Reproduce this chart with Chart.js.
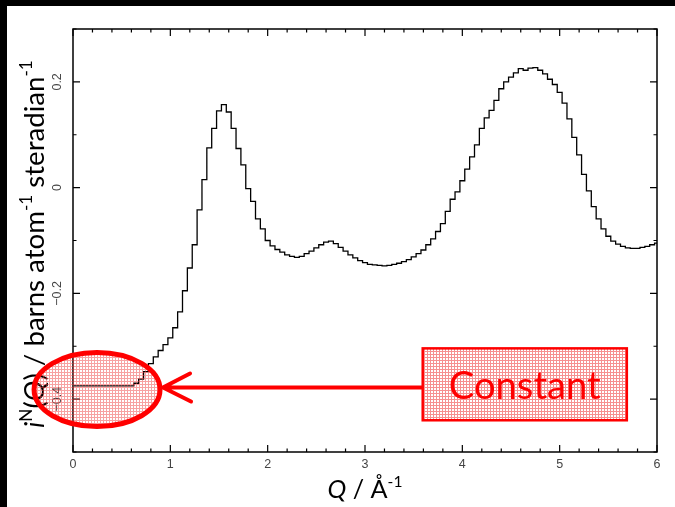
<!DOCTYPE html>
<html>
<head>
<meta charset="utf-8">
<script src="https://cdn.jsdelivr.net/npm/chart.js@4.4.1/dist/chart.umd.min.js"></script>
<style>
  html, body { margin: 0; padding: 0; background: #000; }
  #wrap { position: absolute; left: 7px; top: 6px; width: 668px; height: 501px; background: #fff; }
</style>
</head>
<body>
<div id="wrap"><canvas id="c"></canvas></div>
<script>
/* i^N(Q) step curve with "Constant" annotation (Chart.js v4) */

// Q grid (1/Å) and read-off i^N(Q) values
var Q = [
  0.00, 0.05, 0.10, 0.15, 0.20, 0.25, 0.30, 0.35, 0.40, 0.45, 0.50, 0.55, 0.60, 0.65, 0.70, 0.75, 0.80, 0.85, 0.90, 0.95,
  1.00, 1.05, 1.10, 1.15, 1.20, 1.25, 1.30, 1.35, 1.40, 1.45, 1.50, 1.55, 1.60, 1.65, 1.70, 1.75, 1.80, 1.85, 1.90, 1.95,
  2.00, 2.05, 2.10, 2.15, 2.20, 2.25, 2.30, 2.35, 2.40, 2.45, 2.50, 2.55, 2.60, 2.65, 2.70, 2.75, 2.80, 2.85, 2.90, 2.95,
  3.00, 3.05, 3.10, 3.15, 3.20, 3.25, 3.30, 3.35, 3.40, 3.45, 3.50, 3.55, 3.60, 3.65, 3.70, 3.75, 3.80, 3.85, 3.90, 3.95,
  4.00, 4.05, 4.10, 4.15, 4.20, 4.25, 4.30, 4.35, 4.40, 4.45, 4.50, 4.55, 4.60, 4.65, 4.70, 4.75, 4.80, 4.85, 4.90, 4.95,
  5.00, 5.05, 5.10, 5.15, 5.20, 5.25, 5.30, 5.35, 5.40, 5.45, 5.50, 5.55, 5.60, 5.65, 5.70, 5.75, 5.80, 5.85, 5.90, 5.95,
  6.00
];
var IQ = [
  -0.375, -0.375, -0.375, -0.375, -0.375, -0.375, -0.375, -0.375, -0.375, -0.375, -0.375, -0.375, -0.375, -0.370, -0.362, -0.348, -0.333, -0.320, -0.308, -0.297,
  -0.284, -0.265, -0.235, -0.195, -0.152, -0.108, -0.042, 0.015, 0.075, 0.112, 0.145, 0.157, 0.143, 0.112, 0.074, 0.043, -0.002, -0.026, -0.059, -0.078,
  -0.100, -0.110, -0.117, -0.122, -0.127, -0.130, -0.132, -0.130, -0.125, -0.120, -0.114, -0.108, -0.103, -0.101, -0.106, -0.113, -0.120, -0.127, -0.133, -0.138,
  -0.142, -0.145, -0.146, -0.147, -0.148, -0.147, -0.145, -0.143, -0.140, -0.136, -0.131, -0.125, -0.118, -0.108, -0.097, -0.083, -0.068, -0.045, -0.022, -0.008,
  0.013, 0.035, 0.058, 0.081, 0.112, 0.132, 0.146, 0.165, 0.187, 0.200, 0.209, 0.217, 0.225, 0.222, 0.226, 0.227, 0.222, 0.215, 0.205, 0.195,
  0.180, 0.160, 0.130, 0.095, 0.062, 0.025, -0.006, -0.036, -0.059, -0.078, -0.092, -0.101, -0.107, -0.111, -0.114, -0.115, -0.115, -0.113, -0.111, -0.108,
  -0.105
];

var X_TICKS = [0, 1, 2, 3, 4, 5, 6];
var X_LABELS = ["0", "1", "2", "3", "4", "5", "6"];
var X_MINOR = [0.2, 0.4, 0.6, 0.8, 1.2, 1.4, 1.6, 1.8, 2.2, 2.4, 2.6, 2.8, 3.2, 3.4, 3.6, 3.8, 4.2, 4.4, 4.6, 4.8, 5.2, 5.4, 5.6, 5.8];
var Y_TICKS = [-0.4, -0.2, 0, 0.2];
var Y_LABELS = ["\u22120.4", "\u22120.2", "0", "0.2"];
var Y_MINOR = [-0.5, -0.3, -0.1, 0.1, 0.3];

var RED = "#ff0000", INK = "#000", TICKC = "#444";
var TFONT = "Lato, 'Open Sans', sans-serif";

function hatch(alpha) {
  var p = document.createElement("canvas");
  p.width = 3; p.height = 3;
  var g = p.getContext("2d");
  g.fillStyle = "rgba(240,70,70," + alpha + ")";
  g.fillRect(0, 0, 3, 1);
  g.fillRect(0, 1, 1, 2);
  return document.getElementById("c").getContext("2d").createPattern(p, "repeat");
}

// draws a run of text pieces (italic / superscript) starting at x
function rich(ctx, parts, size, x, y, measureOnly) {
  var w = 0;
  parts.forEach(function (p) {
    var s = p.sup ? size * 0.62 : size;
    ctx.font = (p.it ? "italic " : "") + s + "px " + TFONT;
    if (!measureOnly) ctx.fillText(p.t, x + w, p.sup ? y - size * 0.42 : y);
    w += ctx.measureText(p.t).width;
  });
  return w;
}
function richFit(ctx, parts, width, cx, y) {
  var w0 = rich(ctx, parts, 24, 0, 0, true);
  var size = 24 * width / w0;
  ctx.textAlign = "left";
  ctx.textBaseline = "alphabetic";
  rich(ctx, parts, size, cx - width / 2, y, false);
}

var frame = {
  id: "frame",
  afterDatasetsDraw: function (chart) {
    var ctx = chart.ctx, a = chart.chartArea, xs = chart.scales.x, ys = chart.scales.y;
    ctx.save();

    // frame
    ctx.strokeStyle = INK; ctx.lineWidth = 1.5;
    ctx.strokeRect(a.left, a.top, a.right - a.left, a.bottom - a.top);

    // inward ticks on all four sides
    ctx.lineWidth = 1.2;
    function xt(v, len) {
      var px = xs.getPixelForValue(v);
      ctx.beginPath();
      ctx.moveTo(px, a.bottom); ctx.lineTo(px, a.bottom - len);
      ctx.moveTo(px, a.top); ctx.lineTo(px, a.top + len);
      ctx.stroke();
    }
    function yt(v, len) {
      var py = ys.getPixelForValue(v);
      ctx.beginPath();
      ctx.moveTo(a.left, py); ctx.lineTo(a.left + len, py);
      ctx.moveTo(a.right, py); ctx.lineTo(a.right - len, py);
      ctx.stroke();
    }
    X_TICKS.forEach(function (v) { xt(v, 7); });
    X_MINOR.forEach(function (v) { xt(v, 3.5); });
    Y_TICKS.forEach(function (v) { yt(v, 7); });
    Y_MINOR.forEach(function (v) { yt(v, 3.5); });

    // tick labels
    ctx.fillStyle = TICKC;
    ctx.font = "12.5px 'Liberation Sans', Arial, sans-serif";
    ctx.textAlign = "center"; ctx.textBaseline = "middle";
    X_TICKS.forEach(function (v, i) {
      ctx.fillText(X_LABELS[i], xs.getPixelForValue(v), a.bottom + 13);
    });
    Y_TICKS.forEach(function (v, i) {
      ctx.save();
      ctx.translate(a.left - 15, ys.getPixelForValue(v));
      ctx.rotate(-Math.PI / 2);
      ctx.fillText(Y_LABELS[i], 0, 0);
      ctx.restore();
    });

    // axis titles
    ctx.fillStyle = INK;
    richFit(ctx, [{ t: "Q", it: true }, { t: " / Å" }, { t: "-1", sup: true }], 75, xs.getPixelForValue(3), a.bottom + 46);
    ctx.save();
    ctx.translate(37, 238);
    ctx.rotate(-Math.PI / 2);
    richFit(ctx, [{ t: "i", it: true }, { t: "N", sup: true }, { t: "(" }, { t: "Q", it: true },
                  { t: ") / barns atom" }, { t: "-1", sup: true }, { t: " steradian" }, { t: "-1", sup: true }],
            368, 0, 0);
    ctx.restore();

    // annotation: ellipse round the constant part
    var ex = xs.getPixelForValue(0.247), ey = ys.getPixelForValue(-0.382);
    var rx = xs.getPixelForValue(0.647) - xs.getPixelForValue(0), ry = ys.getPixelForValue(0) - ys.getPixelForValue(0.07);
    ctx.beginPath();
    ctx.ellipse(ex, ey, rx, ry, 0, 0, Math.PI * 2);
    ctx.fillStyle = hatch(0.5);
    ctx.fill();
    ctx.strokeStyle = RED; ctx.lineWidth = 5;
    ctx.stroke();

    // arrow from the box to the ellipse
    var bx0 = xs.getPixelForValue(3.593), bx1 = xs.getPixelForValue(5.69);
    var by0 = ys.getPixelForValue(-0.304), by1 = ys.getPixelForValue(-0.44);
    var tipX = xs.getPixelForValue(0.925), tipY = ys.getPixelForValue(-0.378);
    ctx.lineWidth = 4; ctx.lineCap = "round";
    ctx.beginPath();
    ctx.moveTo(bx0, tipY); ctx.lineTo(tipX + 2, tipY);
    ctx.moveTo(tipX + 27, tipY - 14); ctx.lineTo(tipX, tipY); ctx.lineTo(tipX + 28, tipY + 14);
    ctx.stroke();

    // "Constant" box
    ctx.fillStyle = "#fff";
    ctx.fillRect(bx0, by0, bx1 - bx0, by1 - by0);
    ctx.fillStyle = hatch(0.6);
    ctx.fillRect(bx0, by0, bx1 - bx0, by1 - by0);
    ctx.lineWidth = 2.5; ctx.lineCap = "butt";
    ctx.strokeRect(bx0, by0, bx1 - bx0, by1 - by0);
    ctx.fillStyle = RED;
    ctx.textAlign = "center"; ctx.textBaseline = "alphabetic";
    ctx.font = "36px " + TFONT;
    var tw = ctx.measureText("Constant").width;
    ctx.font = (36 * 152 / tw).toFixed(1) + "px " + TFONT;
    ctx.fillText("Constant", (bx0 + bx1) / 2, by1 - 21);

    ctx.restore();
  }
};

new Chart(document.getElementById("c"), {
  type: "line",
  data: {
    datasets: [{
      data: Q.map(function (q, i) { return { x: q, y: IQ[i] }; }),
      borderColor: INK, borderWidth: 1.3, pointRadius: 0, stepped: "middle", fill: false
    }]
  },
  options: {
    responsive: true, maintainAspectRatio: false, animation: false,
    layout: { padding: { left: 66, top: 23, right: 18, bottom: 55 } },
    plugins: { legend: { display: false }, tooltip: { enabled: false } },
    scales: {
      x: { type: "linear", min: 0, max: 6, display: false },
      y: { min: -0.5, max: 0.3, display: false }
    }
  },
  plugins: [frame]
});
</script>
</body>
</html>
